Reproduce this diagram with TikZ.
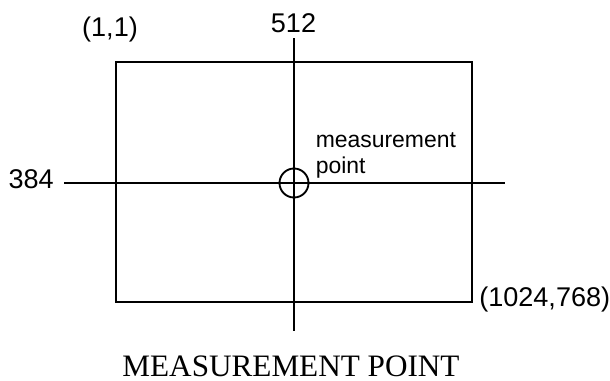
\documentclass[tikz,border=0pt]{standalone}
\usepackage{fontspec}
\setmainfont{Liberation Sans}
\newfontfamily\titlefont{Liberation Serif}
\begin{document}
\begin{tikzpicture}[x=0.75pt,y=-0.75pt,
  lbl/.style={inner sep=0pt,font=\fontsize{20.3}{24}\selectfont},
  mlbl/.style={inner sep=0pt,font=\fontsize{17.2}{21}\selectfont},
  ttl/.style={inner sep=0pt,text depth=0pt,font=\titlefont\fontsize{23.4}{27}\selectfont},
  ln/.style={line width=1.4pt}]
\useasboundingbox (0,0) rectangle (610,380);
\coordinate (tl) at (116,62);
\coordinate (br) at (472,302);
\coordinate (vt) at (294,38);
\coordinate (vb) at (294,331);
\coordinate (hl) at (64,183);
\coordinate (hr) at (505,183);
\coordinate (mp) at (294,183);
\draw[ln] (tl) rectangle (br);
\draw[ln] (vt) -- (vb);
\draw[ln] (hl) -- (hr);
\draw[ln] (mp) circle[radius=14.5];
\node[lbl,anchor=base] (l512) at (293.5,32) {512};
\node[lbl,anchor=base] (l11) at (110,36.5) {(1,1)};
\node[lbl,anchor=base east] (l384) at (54,188) {384};
\node[lbl,anchor=base west] (lend) at (479,306.5) {(1024,768)};
\node[mlbl,anchor=base west] (m1) at (315.5,147) {measurement};
\node[mlbl,anchor=base west] (m2) at (315.5,173) {point};
\node[ttl,anchor=base] (title) at (291,376.5) {MEASUREMENT POINT};
\end{tikzpicture}
\end{document}
